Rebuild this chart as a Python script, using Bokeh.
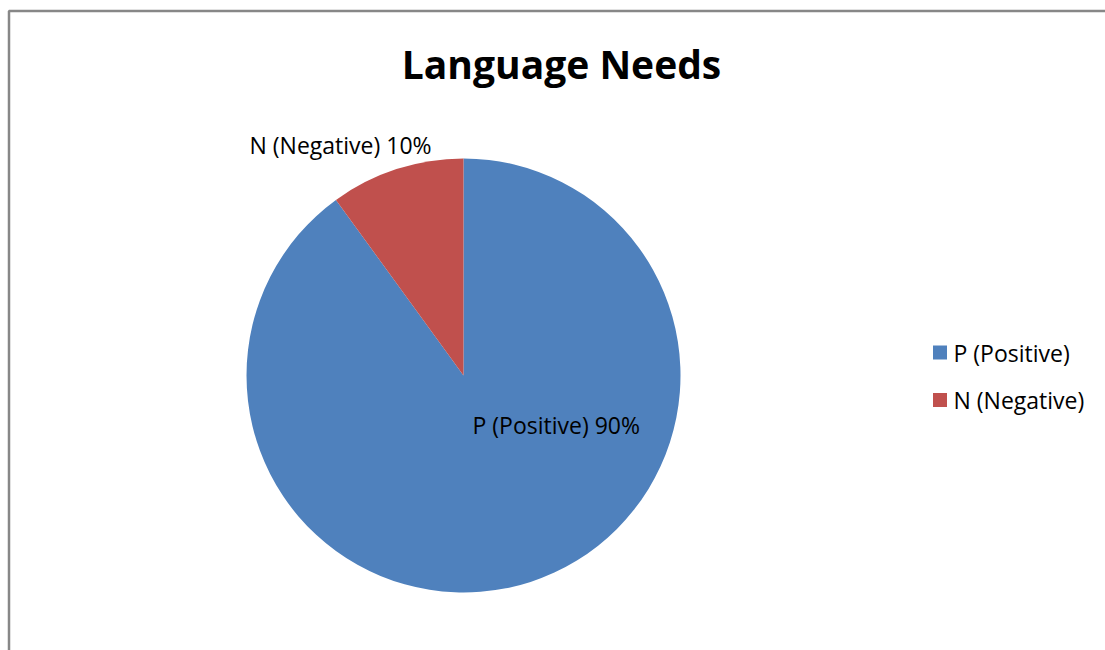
import math
from bokeh.plotting import figure
from bokeh.models import Range1d, ColumnDataSource, BoxAnnotation
from bokeh.core.properties import value
from bokeh.embed import file_html
from bokeh.resources import INLINE

title = "Language Needs"
categories = ["P (Positive)", "N (Negative)"]
percents = [90, 10]
colors = ["#4F81BD", "#C0504D"]

W, H = 1105, 650
FONT = "Open Sans"

p = figure(width=W, height=H, output_backend="svg", toolbar_location=None,
           x_range=Range1d(0, W), y_range=Range1d(0, H), min_border=0,
           outline_line_color=None, background_fill_color="white",
           border_fill_color="white")
p.axis.visible = False
p.grid.visible = False

# frame border
p.add_layout(BoxAnnotation(left=8.5, right=W + 50, top=H - 10.5, bottom=-50,
                           fill_alpha=0, line_color="#878787", line_alpha=1.0,
                           line_width=2.5))

cx, cy, r = 463, H - 375, 217
total = sum(percents)
top = math.pi / 2
n_frac = percents[1] / total
starts = [top + 2 * math.pi * n_frac, top]
ends = [top + 2 * math.pi, top + 2 * math.pi * n_frac]
src = ColumnDataSource(dict(start=starts, end=ends, color=colors, cat=categories))
p.wedge(x=cx, y=cy, radius=r, start_angle="start", end_angle="end",
        fill_color="color", line_color=None, source=src)

# data labels
lab_text = [f"{c} {v}%" for c, v in zip(categories, percents)]
p.text(x=[472, 249], y=[H - 424, H - 144], text=lab_text,
       text_font=value(FONT), text_font_size="23px", text_color="black",
       text_align="left", text_baseline="middle")

# title
p.text(x=[561], y=[H - 63], text=[title], text_font=value(FONT),
       text_font_size="39px", text_font_style="bold", text_color="black",
       text_align="center", text_baseline="middle")

# legend
ly = [H - 352, H - 399.5]
p.rect(x=[939.5, 939.5], y=ly, width=14, height=14, fill_color=colors, line_color=None)
p.text(x=[953, 953], y=ly, text=categories, text_font=value(FONT),
       text_font_size="23px", text_color="black", text_align="left",
       text_baseline="middle")

open("out.html", "w").write(file_html(p, INLINE))
